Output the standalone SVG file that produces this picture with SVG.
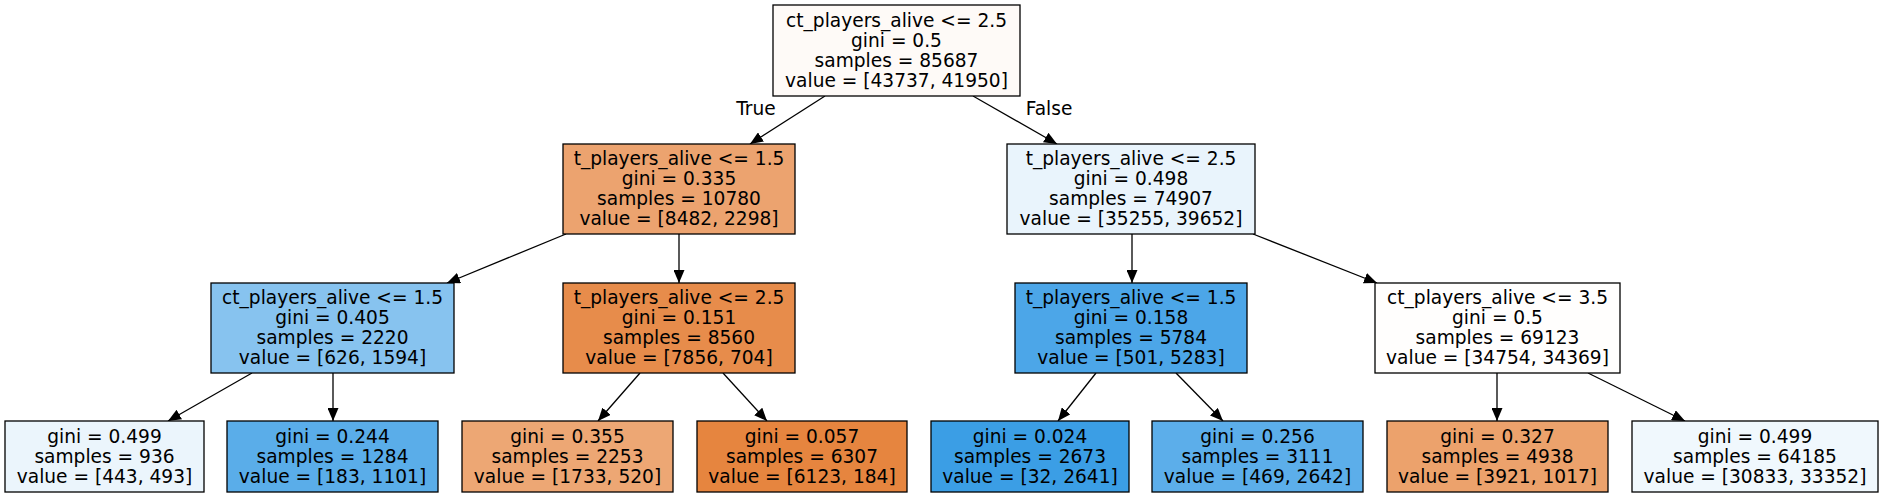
<svg xmlns="http://www.w3.org/2000/svg" width="1885" height="497" viewBox="0 0 1885 497">
<style>
.n rect{stroke:#000;stroke-width:1.3}
text{font-family:"DejaVu Sans",sans-serif;font-size:18.6px;fill:#000;text-anchor:middle}
.e line{stroke:#000;stroke-width:1.3}
</style>
<defs>
<marker id="ah" markerUnits="userSpaceOnUse" markerWidth="14" markerHeight="11" refX="13" refY="5.5" orient="auto">
<path d="M0,0 L13,5.5 L0,11 z" fill="#000"/>
</marker>
</defs>
<rect width="1885" height="497" fill="#fff"/>
<g id="edges" class="e">
<line x1="825" y1="96" x2="750" y2="144" marker-end="url(#ah)"/>
<line x1="973" y1="96" x2="1057" y2="144" marker-end="url(#ah)"/>
<line x1="566" y1="234" x2="447" y2="283" marker-end="url(#ah)"/>
<line x1="679" y1="234" x2="679" y2="283" marker-end="url(#ah)"/>
<line x1="1132" y1="234" x2="1132" y2="283" marker-end="url(#ah)"/>
<line x1="1253" y1="234" x2="1377" y2="283" marker-end="url(#ah)"/>
<line x1="252" y1="373" x2="168" y2="421" marker-end="url(#ah)"/>
<line x1="333" y1="373" x2="333" y2="421" marker-end="url(#ah)"/>
<line x1="640" y1="373" x2="598" y2="421" marker-end="url(#ah)"/>
<line x1="723" y1="373" x2="767" y2="421" marker-end="url(#ah)"/>
<line x1="1096" y1="373" x2="1058" y2="421" marker-end="url(#ah)"/>
<line x1="1176" y1="373" x2="1223" y2="421" marker-end="url(#ah)"/>
<line x1="1497" y1="373" x2="1497" y2="421" marker-end="url(#ah)"/>
<line x1="1588" y1="373" x2="1685" y2="421" marker-end="url(#ah)"/>
<text x="756" y="115">True</text>
<text x="1049" y="115">False</text>
</g>
<g id="n0" class="n"><rect x="773" y="5" width="247" height="91" fill="#fefaf7"/>
<text x="896.5" y="26.5">ct_players_alive &lt;= 2.5</text><text x="896.5" y="46.5">gini = 0.5</text><text x="896.5" y="66.5">samples = 85687</text><text x="896.5" y="86.5">value = [43737, 41950]</text></g>
<g id="n1" class="n"><rect x="563" y="144" width="232" height="90" fill="#eca36f"/>
<text x="679" y="165">t_players_alive &lt;= 1.5</text><text x="679" y="185">gini = 0.335</text><text x="679" y="205">samples = 10780</text><text x="679" y="225">value = [8482, 2298]</text></g>
<g id="n8" class="n"><rect x="1007" y="144" width="248" height="90" fill="#e9f4fc"/>
<text x="1131" y="165">t_players_alive &lt;= 2.5</text><text x="1131" y="185">gini = 0.498</text><text x="1131" y="205">samples = 74907</text><text x="1131" y="225">value = [35255, 39652]</text></g>
<g id="n2" class="n"><rect x="211" y="283" width="243" height="90" fill="#87c3ef"/>
<text x="332.5" y="304">ct_players_alive &lt;= 1.5</text><text x="332.5" y="324">gini = 0.405</text><text x="332.5" y="344">samples = 2220</text><text x="332.5" y="364">value = [626, 1594]</text></g>
<g id="n5" class="n"><rect x="563" y="283" width="232" height="90" fill="#e78c4b"/>
<text x="679" y="304">t_players_alive &lt;= 2.5</text><text x="679" y="324">gini = 0.151</text><text x="679" y="344">samples = 8560</text><text x="679" y="364">value = [7856, 704]</text></g>
<g id="n9" class="n"><rect x="1015" y="283" width="232" height="90" fill="#4ca6e8"/>
<text x="1131" y="304">t_players_alive &lt;= 1.5</text><text x="1131" y="324">gini = 0.158</text><text x="1131" y="344">samples = 5784</text><text x="1131" y="364">value = [501, 5283]</text></g>
<g id="n12" class="n"><rect x="1375" y="283" width="245" height="90" fill="#fffefd"/>
<text x="1497.5" y="304">ct_players_alive &lt;= 3.5</text><text x="1497.5" y="324">gini = 0.5</text><text x="1497.5" y="344">samples = 69123</text><text x="1497.5" y="364">value = [34754, 34369]</text></g>
<g id="n3" class="n"><rect x="5" y="421" width="199" height="71" fill="#ebf5fc"/>
<text x="104.5" y="443">gini = 0.499</text><text x="104.5" y="463">samples = 936</text><text x="104.5" y="483">value = [443, 493]</text></g>
<g id="n4" class="n"><rect x="227" y="421" width="211" height="71" fill="#5aade9"/>
<text x="332.5" y="443">gini = 0.244</text><text x="332.5" y="463">samples = 1284</text><text x="332.5" y="483">value = [183, 1101]</text></g>
<g id="n6" class="n"><rect x="462" y="421" width="211" height="71" fill="#eda774"/>
<text x="567.5" y="443">gini = 0.355</text><text x="567.5" y="463">samples = 2253</text><text x="567.5" y="483">value = [1733, 520]</text></g>
<g id="n7" class="n"><rect x="697" y="421" width="210" height="71" fill="#e6853f"/>
<text x="802" y="443">gini = 0.057</text><text x="802" y="463">samples = 6307</text><text x="802" y="483">value = [6123, 184]</text></g>
<g id="n10" class="n"><rect x="931" y="421" width="198" height="71" fill="#3b9ee5"/>
<text x="1030" y="443">gini = 0.024</text><text x="1030" y="463">samples = 2673</text><text x="1030" y="483">value = [32, 2641]</text></g>
<g id="n11" class="n"><rect x="1152" y="421" width="211" height="71" fill="#5caeea"/>
<text x="1257.5" y="443">gini = 0.256</text><text x="1257.5" y="463">samples = 3111</text><text x="1257.5" y="483">value = [469, 2642]</text></g>
<g id="n13" class="n"><rect x="1387" y="421" width="221" height="71" fill="#eca26c"/>
<text x="1497.5" y="443">gini = 0.327</text><text x="1497.5" y="463">samples = 4938</text><text x="1497.5" y="483">value = [3921, 1017]</text></g>
<g id="n14" class="n"><rect x="1632" y="421" width="246" height="71" fill="#f0f8fd"/>
<text x="1755" y="443">gini = 0.499</text><text x="1755" y="463">samples = 64185</text><text x="1755" y="483">value = [30833, 33352]</text></g>
</svg>
